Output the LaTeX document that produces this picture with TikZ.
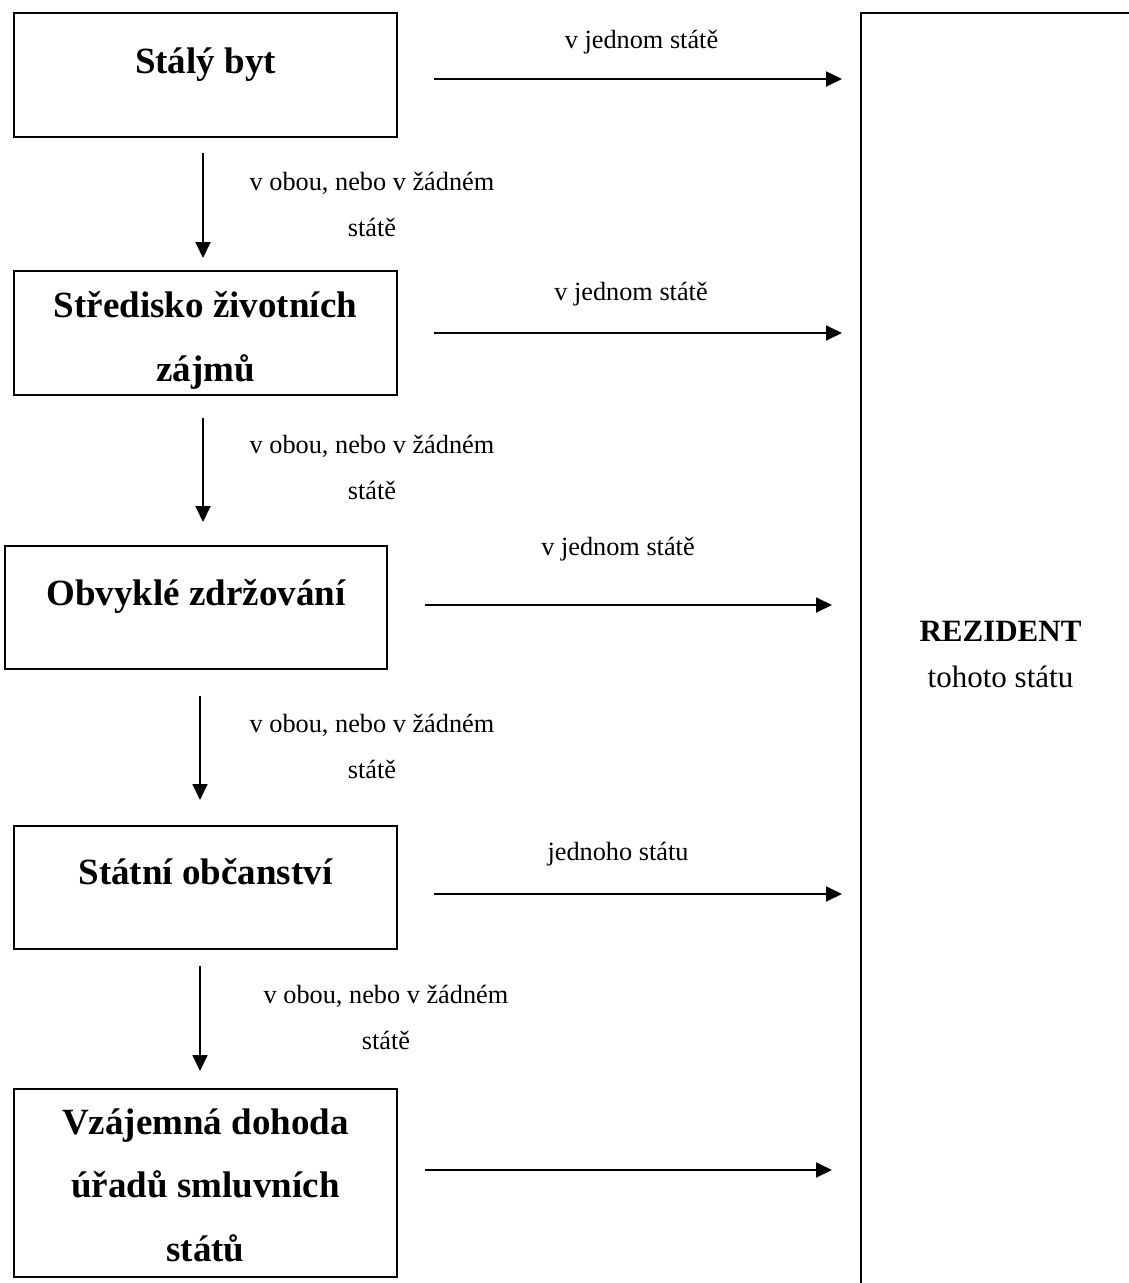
\documentclass[tikz,border=0pt]{standalone}
\usepackage{fontspec}
\setmainfont{Liberation Serif}
\usetikzlibrary{arrows.meta}
\begin{document}
\begin{tikzpicture}[x=1pt,y=-1pt,
  box/.style={draw, line width=1.9pt, inner sep=0pt, outer sep=0pt},
  boxtext/.style={font=\fontsize{37}{63.5}\selectfont\bfseries, align=center, inner sep=0pt, anchor=base},
  lbl/.style={font=\fontsize{26.3}{46}\selectfont, align=center, inner sep=0pt, anchor=base},
  big/.style={font=\fontsize{31}{46}\selectfont, align=center, inner sep=0pt, anchor=base},
  arr/.style={-{Triangle[length=16pt,width=15pt]}, line width=1.8pt}]
\useasboundingbox (0,0) rectangle (1129,1283);
\clip (0,0) rectangle (1129,1283);
\fill[white] (0,0) rectangle (1129,1283);

% right box
\draw[line width=1.9pt] (1140,13) -- (861,13) -- (861,1300);
\node[big] (rez) at (1000.5,687) {\textbf{REZIDENT}\\tohoto státu};

% left boxes
\node[box, minimum width=383pt, minimum height=124pt] (b1) at (205.5,75) {};
\node[box, minimum width=383pt, minimum height=124pt] (b2) at (205.5,333) {};
\node[box, minimum width=382pt, minimum height=123pt] (b3) at (196,607.5) {};
\node[box, minimum width=383pt, minimum height=123pt] (b4) at (205.5,887.5) {};
\node[box, minimum width=383pt, minimum height=188pt] (b5) at (205.5,1183) {};

\node[boxtext] (t1) at (205.5,73) {Stálý byt};
\node[boxtext] (t2) at (205.5,381) {Středisko životních\\zájmů};
\node[boxtext] (t3) at (196,605) {Obvyklé zdržování};
\node[boxtext] (t4) at (205.5,884) {Státní občanství};
\node[boxtext] (t5) at (205.5,1261) {Vzájemná dohoda\\úřadů smluvních\\států};

% down arrows
\coordinate (d1s) at (203,153); \coordinate (d1e) at (203,258);
\coordinate (d2s) at (203,418); \coordinate (d2e) at (203,522);
\coordinate (d3s) at (200,696); \coordinate (d3e) at (200,800);
\coordinate (d4s) at (200,966); \coordinate (d4e) at (200,1071);
\draw[arr] (d1s) -- (d1e);
\draw[arr] (d2s) -- (d2e);
\draw[arr] (d3s) -- (d3e);
\draw[arr] (d4s) -- (d4e);

\node[lbl] (l1) at (372,236) {v obou, nebo v žádném\\státě};
\node[lbl] (l2) at (372,499) {v obou, nebo v žádném\\státě};
\node[lbl] (l3) at (372,778) {v obou, nebo v žádném\\státě};
\node[lbl] (l4) at (386,1049) {v obou, nebo v žádném\\státě};

% right arrows
\coordinate (r1s) at (434,79);   \coordinate (r1e) at (842,79);
\coordinate (r2s) at (434,333);  \coordinate (r2e) at (842,333);
\coordinate (r3s) at (425,605);  \coordinate (r3e) at (832,605);
\coordinate (r4s) at (434,894);  \coordinate (r4e) at (842,894);
\coordinate (r5s) at (425,1170); \coordinate (r5e) at (832,1170);
\draw[arr] (r1s) -- (r1e);
\draw[arr] (r2s) -- (r2e);
\draw[arr] (r3s) -- (r3e);
\draw[arr] (r4s) -- (r4e);
\draw[arr] (r5s) -- (r5e);

\node[lbl] (h1) at (641.5,48) {v jednom státě};
\node[lbl] (h2) at (631,300) {v jednom státě};
\node[lbl] (h3) at (618,555) {v jednom státě};
\node[lbl] (h4) at (618,860) {jednoho státu};
\end{tikzpicture}
\end{document}
